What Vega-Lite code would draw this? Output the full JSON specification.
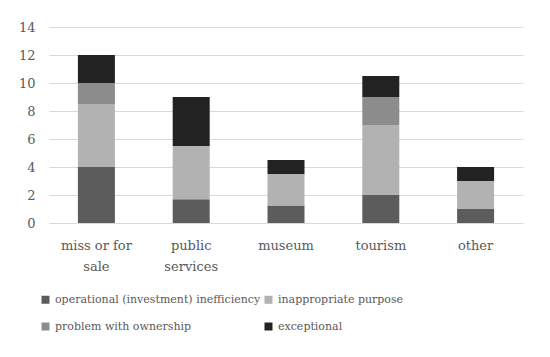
{
  "$schema": "https://vega.github.io/schema/vega-lite/v6.json",
  "width": 474,
  "height": 196,
  "padding": {"left": 18, "right": 5, "top": 21, "bottom": 5},
  "background": "white",
  "data": {
    "values": [
      {"category": "miss or for sale", "type": "operational (investment) inefficiency", "value": 4},
      {"category": "miss or for sale", "type": "inappropriate purpose", "value": 4.5},
      {"category": "miss or for sale", "type": "problem with ownership", "value": 1.5},
      {"category": "miss or for sale", "type": "exceptional", "value": 2},
      {"category": "public services", "type": "operational (investment) inefficiency", "value": 1.7},
      {"category": "public services", "type": "inappropriate purpose", "value": 3.8},
      {"category": "public services", "type": "problem with ownership", "value": 0},
      {"category": "public services", "type": "exceptional", "value": 3.5},
      {"category": "museum", "type": "operational (investment) inefficiency", "value": 1.25},
      {"category": "museum", "type": "inappropriate purpose", "value": 2.25},
      {"category": "museum", "type": "problem with ownership", "value": 0},
      {"category": "museum", "type": "exceptional", "value": 1},
      {"category": "tourism", "type": "operational (investment) inefficiency", "value": 2},
      {"category": "tourism", "type": "inappropriate purpose", "value": 5},
      {"category": "tourism", "type": "problem with ownership", "value": 2},
      {"category": "tourism", "type": "exceptional", "value": 1.5},
      {"category": "other", "type": "operational (investment) inefficiency", "value": 1},
      {"category": "other", "type": "inappropriate purpose", "value": 2},
      {"category": "other", "type": "problem with ownership", "value": 0},
      {"category": "other", "type": "exceptional", "value": 1}
    ]
  },
  "transform": [
    {"calculate": "indexof(['operational (investment) inefficiency', 'inappropriate purpose', 'problem with ownership', 'exceptional'], datum.type)", "as": "stackOrder"}
  ],
  "mark": {"type": "bar", "width": 37},
  "encoding": {
    "x": {
      "field": "category",
      "type": "nominal",
      "sort": ["miss or for sale", "public services", "museum", "tourism", "other"],
      "axis": {
        "title": null,
        "labelAngle": 0,
        "domain": false,
        "ticks": false,
        "labelPadding": 16,
        "labelFont": "DejaVu Serif",
        "labelFontSize": 13,
        "labelColor": "#595959",
        "labelLineHeight": 21,
        "labelExpr": "datum.label == 'miss or for sale' ? ['miss or for', 'sale'] : datum.label == 'public services' ? ['public', 'services'] : datum.label"
      }
    },
    "y": {
      "field": "value",
      "type": "quantitative",
      "stack": "zero",
      "scale": {"domain": [0, 14]},
      "axis": {
        "title": null,
        "values": [0, 2, 4, 6, 8, 10, 12, 14],
        "domain": false,
        "ticks": false,
        "labelPadding": 14,
        "labelFont": "DejaVu Serif",
        "labelFontSize": 13,
        "labelColor": "#595959",
        "gridColor": "#d9d9d9",
        "gridWidth": 1
      }
    },
    "order": {"field": "stackOrder", "type": "quantitative", "sort": "ascending"},
    "color": {
      "field": "type",
      "type": "nominal",
      "scale": {
        "domain": ["operational (investment) inefficiency", "inappropriate purpose", "problem with ownership", "exceptional"],
        "range": ["#5c5c5c", "#b2b2b2", "#8c8c8c", "#222222"]
      },
      "legend": {
        "title": null,
        "orient": "none",
        "legendX": -9,
        "legendY": 267,
        "direction": "horizontal",
        "columns": 2,
        "symbolType": "square",
        "symbolSize": 64,
        "symbolStrokeWidth": 0,
        "labelFont": "DejaVu Serif",
        "labelFontSize": 11,
        "labelColor": "#595959",
        "labelLimit": 400,
        "columnPadding": 2,
        "rowPadding": 15
      }
    }
  },
  "config": {"view": {"stroke": null}}
}
